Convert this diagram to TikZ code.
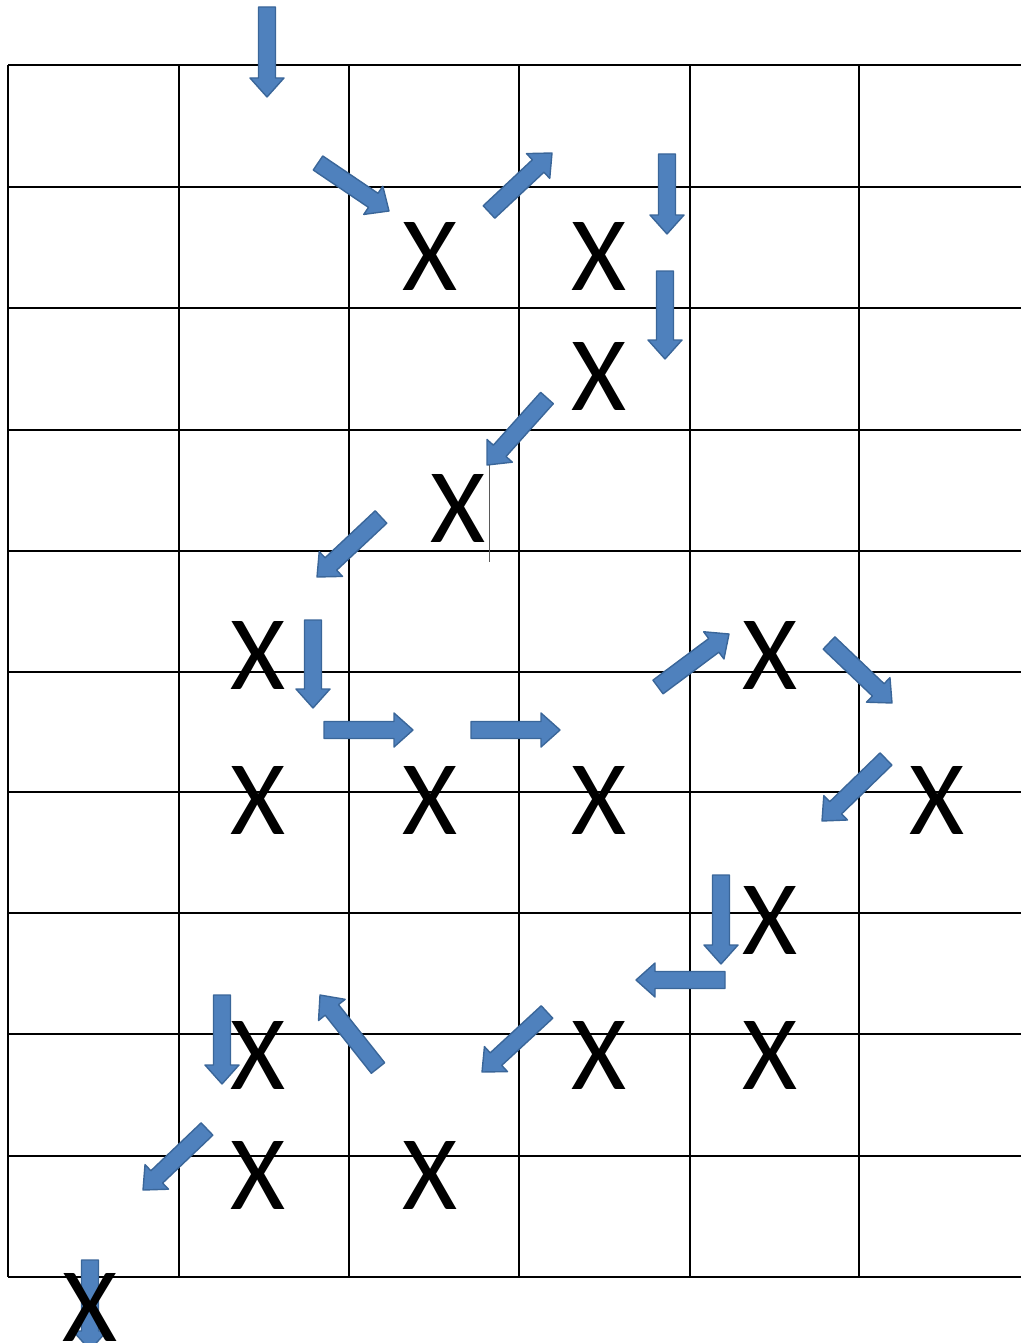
\documentclass[tikz,border=0pt]{standalone}
\usepackage{fontspec}
\setmainfont{Carlito}
\usetikzlibrary{calc}
\definecolor{arrfill}{HTML}{4F81BD}
\definecolor{arrline}{HTML}{3A6699}
\tikzset{
  gridline/.style={line width=1.5pt, black},
  xmark/.style={inner sep=0pt, outer sep=0pt, anchor=center, font=\fontsize{106}{106}\selectfont},
  barrowstyle/.style={fill=arrfill, draw=arrline, line width=1.4pt, line join=round},
}
\newcommand{\blockarrow}[2]{%
  \path let \p1=($(#2)-(#1)$) in \pgfextra{%
    \pgfmathparse{atan2(\y1,\x1)}\xdef\baang{\pgfmathresult}%
    \pgfmathparse{veclen(\x1,\y1)}\xdef\balen{\pgfmathresult}};
  \begin{scope}[shift={(#1)}, rotate=\baang, x=1pt, y=1pt]
    \draw[barrowstyle] (0,-8.5) -- ({\balen-19},-8.5) -- ({\balen-19},-17)
      -- (\balen,0) -- ({\balen-19},17) -- ({\balen-19},8.5) -- (0,8.5) -- cycle;
  \end{scope}}
\begin{document}
\begin{tikzpicture}[x=1pt, y=-1pt]
\useasboundingbox (0,0) rectangle (1020,1343);
% grid
\foreach \yy in {65,187,308,430,551,672,792,913,1034,1156,1277}
  \draw[gridline] (8,\yy) -- (1022,\yy);
\foreach \xx in {8,179,349,519,690,859}
  \draw[gridline] (\xx,65) -- (\xx,1277);
% cursor mark
\draw[gray!70!black, line width=1pt] (489,445) -- (489,562);
% arrows
\coordinate (a1t) at (267,7);    \coordinate (a1h) at (267,97);
\coordinate (a2t) at (318,163);  \coordinate (a2h) at (389,211);
\coordinate (a3t) at (489,212);  \coordinate (a3h) at (552,153);
\coordinate (a4t) at (667,154);  \coordinate (a4h) at (667,234);
\coordinate (a5t) at (665,271);  \coordinate (a5h) at (665,359);
\coordinate (a6t) at (547,398);  \coordinate (a6h) at (487,465);
\coordinate (a7t) at (381,517);  \coordinate (a7h) at (317,577);
\coordinate (a8t) at (313,620);  \coordinate (a8h) at (313,708);
\coordinate (a9t) at (324,730);  \coordinate (a9h) at (413,730);
\coordinate (a10t) at (471,730); \coordinate (a10h) at (560,730);
\coordinate (a11t) at (658,687); \coordinate (a11h) at (729,634);
\coordinate (a12t) at (829,643); \coordinate (a12h) at (892,703);
\coordinate (a13t) at (886,759); \coordinate (a13h) at (822,821);
\coordinate (a14t) at (721,875); \coordinate (a14h) at (721,964);
\coordinate (a15t) at (725,980); \coordinate (a15h) at (636,980);
\coordinate (a16t) at (547,1012); \coordinate (a16h) at (482,1072);
\coordinate (a17t) at (378,1068); \coordinate (a17h) at (320,995);
\coordinate (a18t) at (222,995); \coordinate (a18h) at (222,1084);
\coordinate (a19t) at (207,1129); \coordinate (a19h) at (143,1190);
\coordinate (a20t) at (90,1260); \coordinate (a20h) at (90,1350);
\foreach \i in {1,...,20} { \blockarrow{a\i t}{a\i h} }
% X marks
\node[xmark] (x1) at (430,256) {X};
\node[xmark] (x2) at (599,256) {X};
\node[xmark] (x3) at (599,376) {X};
\node[xmark] (x4) at (458,508) {X};
\node[xmark] (x5) at (258,655) {X};
\node[xmark] (x6) at (258,800) {X};
\node[xmark] (x7) at (430,800) {X};
\node[xmark] (x8) at (599,800) {X};
\node[xmark] (x9) at (770,655) {X};
\node[xmark] (x10) at (937,800) {X};
\node[xmark] (x11) at (770,920) {X};
\node[xmark] (x12) at (258,1055) {X};
\node[xmark] (x13) at (599,1055) {X};
\node[xmark] (x14) at (770,1055) {X};
\node[xmark] (x15) at (258,1175) {X};
\node[xmark] (x16) at (430,1175) {X};
\node[xmark] (x17) at (90,1307) {X};
\end{tikzpicture}
\end{document}
